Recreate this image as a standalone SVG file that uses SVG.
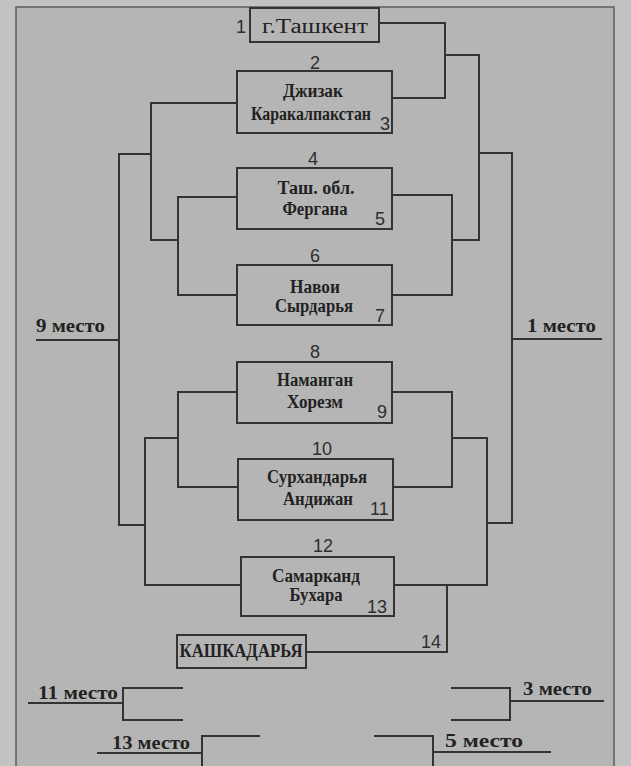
<svg xmlns="http://www.w3.org/2000/svg" width="631" height="766" viewBox="0 0 631 766">
<style>
.bg{fill:#c2c2c2}
.inner{fill:#b5b5b5;stroke:#5e5e5e;stroke-width:1.5}
.box{fill:#b5b5b5;stroke:#333;stroke-width:2}
.ln{fill:none;stroke:#333;stroke-width:2}
.name{font-family:"Liberation Serif",serif;font-weight:bold;font-size:18px;fill:#222;text-anchor:middle}
.num{font-family:"Liberation Sans",sans-serif;font-size:18px;fill:#2e2e2e}
.place{font-family:"Liberation Serif",serif;font-weight:bold;font-size:19px;fill:#222}
</style>
<rect class="bg" x="0" y="0" width="631" height="766"/>
<rect class="inner" x="16" y="7" width="598" height="780"/>

<g id="connectors">
<path class="ln" d="M379 23 H445 V98 H392"/>
<path class="ln" d="M445 55 H479 V240 H452"/>
<path class="ln" d="M392 195 H452 V295 H392"/>
<path class="ln" d="M479 153 H512 V523 H487"/>
<path class="ln" d="M392 392 H452 V487 H393"/>
<path class="ln" d="M452 438 H487 V585 H394"/>
<path class="ln" d="M447 585 V652 H306"/>
<path class="ln" d="M237 103 H151 V240 H178"/>
<path class="ln" d="M237 197 H178 V295 H237"/>
<path class="ln" d="M151 154 H119 V525 H145"/>
<path class="ln" d="M237 392 H178 V487 H238"/>
<path class="ln" d="M178 438 H145 V585 H241"/>
<path class="ln" d="M36 340 H119"/>
<path class="ln" d="M512 339 H602"/>
<path class="ln" d="M28 703 H123"/>
<path class="ln" d="M183 688 H123 V720 H183"/>
<path class="ln" d="M604 701 H510"/>
<path class="ln" d="M451 688 H510 V720 H451"/>
<path class="ln" d="M97 753 H202"/>
<path class="ln" d="M260 736 H202 V768"/>
<path class="ln" d="M551 752 H433"/>
<path class="ln" d="M374 736 H433 V768"/>
</g>

<g id="n1">
<rect class="box" x="250" y="8" width="129" height="34"/>
<text class="num" x="236" y="33">1</text>
<text x="315" y="33" font-family="Liberation Serif, serif" font-size="20" fill="#222" text-anchor="middle" textLength="106" lengthAdjust="spacingAndGlyphs">г.Ташкент</text>
</g>

<g id="n2">
<rect class="box" x="237" y="71" width="155" height="62"/>
<text class="num" x="310" y="69">2</text>
<text class="name" x="313" y="97" textLength="60" lengthAdjust="spacingAndGlyphs">Джизак</text>
<text class="name" x="311" y="120" textLength="120" lengthAdjust="spacingAndGlyphs">Каракалпакстан</text>
<text class="num" x="380" y="130">3</text>
</g>

<g id="n4">
<rect class="box" x="237" y="168" width="155" height="61"/>
<text class="num" x="308" y="165">4</text>
<text class="name" x="316" y="194" textLength="77" lengthAdjust="spacingAndGlyphs">Таш. обл.</text>
<text class="name" x="315" y="215" textLength="65" lengthAdjust="spacingAndGlyphs">Фергана</text>
<text class="num" x="375" y="225">5</text>
</g>

<g id="n6">
<rect class="box" x="237" y="265" width="155" height="60"/>
<text class="num" x="310" y="262">6</text>
<text class="name" x="315" y="293" textLength="50" lengthAdjust="spacingAndGlyphs">Навои</text>
<text class="name" x="314" y="312" textLength="78" lengthAdjust="spacingAndGlyphs">Сырдарья</text>
<text class="num" x="375" y="322">7</text>
</g>

<g id="n8">
<rect class="box" x="237" y="362" width="155" height="61"/>
<text class="num" x="310" y="358">8</text>
<text class="name" x="315" y="386" textLength="76" lengthAdjust="spacingAndGlyphs">Наманган</text>
<text class="name" x="315" y="408" textLength="56" lengthAdjust="spacingAndGlyphs">Хорезм</text>
<text class="num" x="377" y="418">9</text>
</g>

<g id="n10">
<rect class="box" x="238" y="459" width="155" height="61"/>
<text class="num" x="312" y="455">10</text>
<text class="name" x="317" y="483" textLength="100" lengthAdjust="spacingAndGlyphs">Сурхандарья</text>
<text class="name" x="318" y="505" textLength="70" lengthAdjust="spacingAndGlyphs">Андижан</text>
<text class="num" x="370" y="515">11</text>
</g>

<g id="n12">
<rect class="box" x="241" y="557" width="153" height="59"/>
<text class="num" x="313" y="552">12</text>
<text class="name" x="316" y="582" textLength="88" lengthAdjust="spacingAndGlyphs">Самарканд</text>
<text class="name" x="316" y="601" textLength="53" lengthAdjust="spacingAndGlyphs">Бухара</text>
<text class="num" x="367" y="613">13</text>
</g>

<g id="n14">
<rect class="box" x="177" y="635" width="129" height="33"/>
<text class="name" x="241" y="657" textLength="123" lengthAdjust="spacingAndGlyphs">КАШКАДАРЬЯ</text>
<text class="num" x="421" y="648">14</text>
</g>

<g id="places">
<text class="place" x="36" y="332" textLength="69" lengthAdjust="spacingAndGlyphs">9 место</text>
<text class="place" x="527" y="332" textLength="69" lengthAdjust="spacingAndGlyphs">1 место</text>
<text class="place" x="38" y="699" textLength="80" lengthAdjust="spacingAndGlyphs">11 место</text>
<text class="place" x="523" y="695" textLength="69" lengthAdjust="spacingAndGlyphs">3 место</text>
<text class="place" x="112" y="749" textLength="78" lengthAdjust="spacingAndGlyphs">13 место</text>
<text class="place" x="445" y="747" textLength="78" lengthAdjust="spacingAndGlyphs">5 место</text>
</g>
</svg>
